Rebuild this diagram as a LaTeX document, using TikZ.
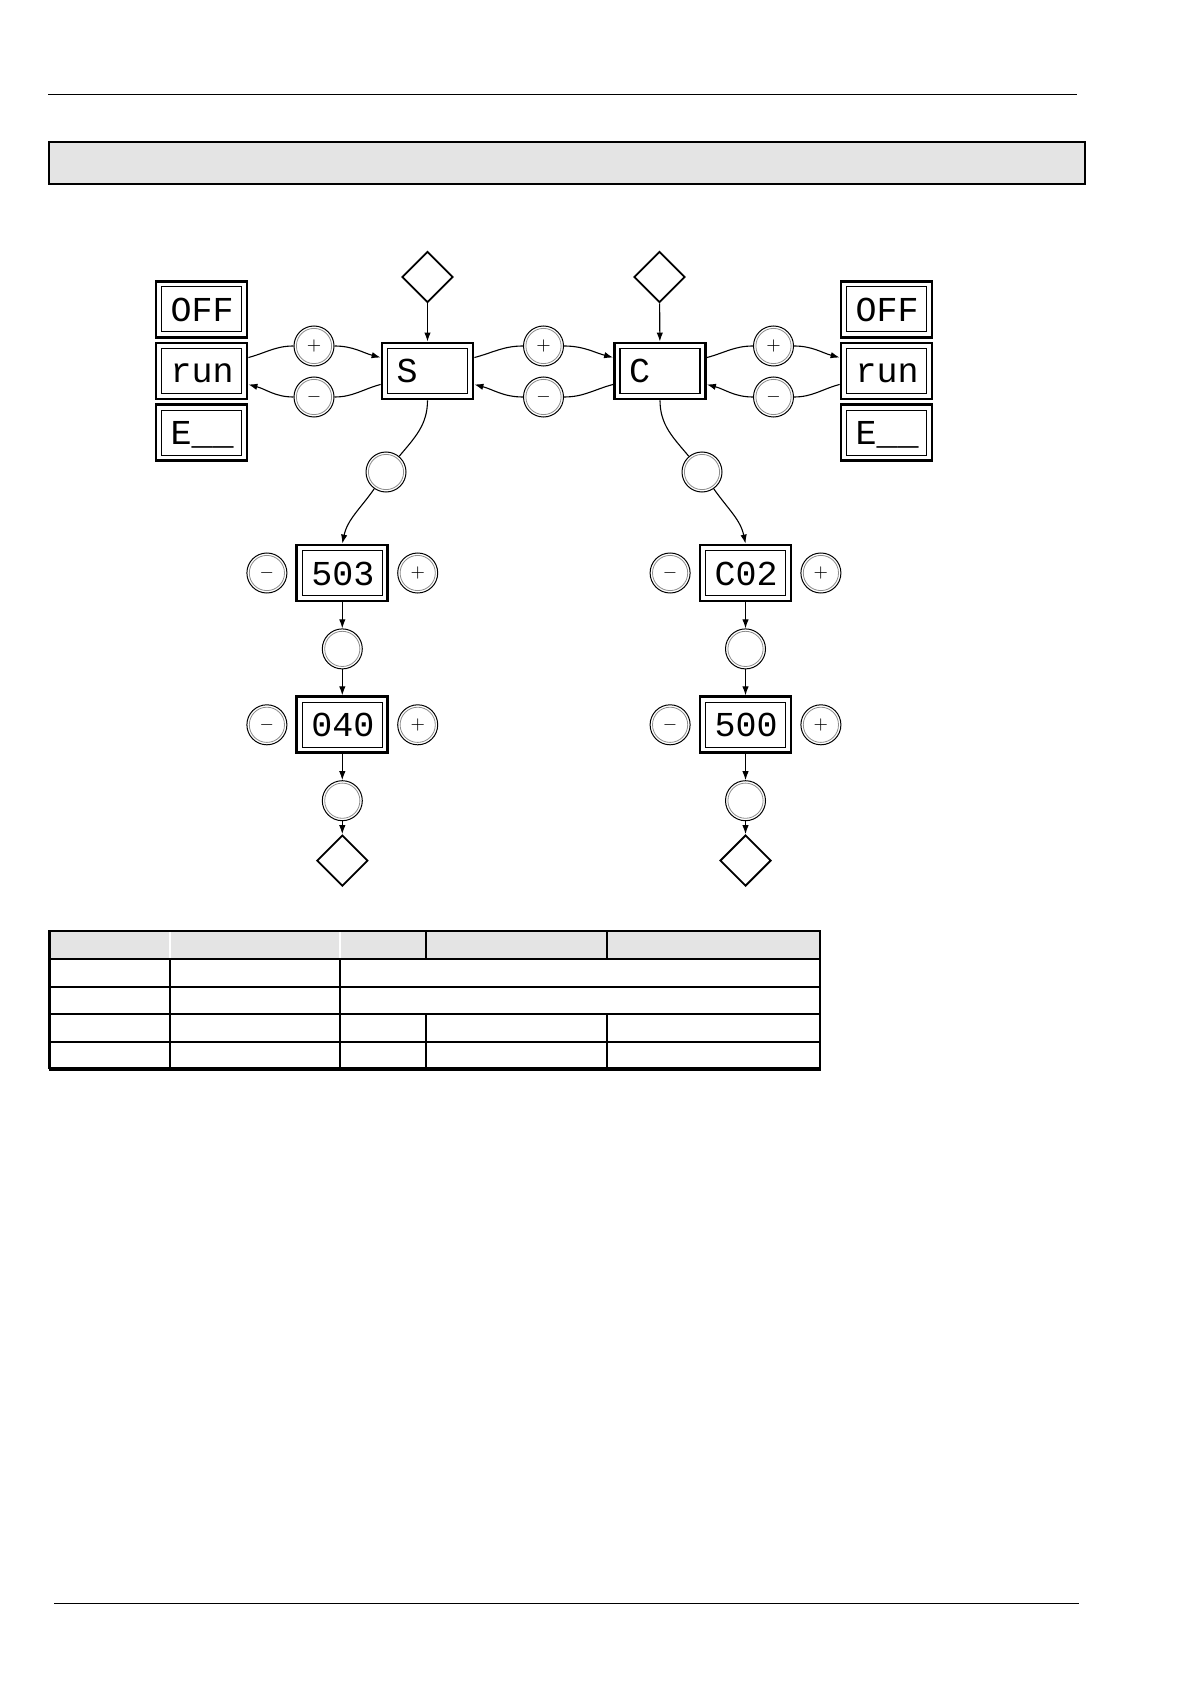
\documentclass[tikz,border=0pt]{standalone}
\usepackage{fontspec}
\usetikzlibrary{arrows.meta,positioning,shapes.geometric}
\newfontfamily\segfont{Liberation Mono}
\definecolor{PanelGray}{HTML}{E4E4E4}
\definecolor{RingGray}{HTML}{8C8C8C}

\begin{document}
\begin{tikzpicture}[
  x=0.5pt, y=0.5pt,
  disp/.style={draw, line width=1.4pt, fill=white, minimum height=28pt, text width=31pt,
    inner xsep=7.25pt, inner ysep=0pt, align=left, text height=12pt, text depth=0pt,
    font=\segfont\fontsize{17.5}{18}\selectfont,
    path picture={\draw[line width=0.7pt]
      ([shift={(2.8pt,-2.8pt)}]path picture bounding box.north west) rectangle
      ([shift={(-2.8pt,2.8pt)}]path picture bounding box.south east);}},
  key/.style={circle, draw, line width=0.5pt, minimum size=20pt, inner sep=0pt, font=\small,
    path picture={\draw[RingGray, line width=0.4pt] (path picture bounding box.center) circle (8.8pt);}},
  jump/.style={diamond, draw, line width=0.9pt, minimum width=25.5pt, minimum height=25.5pt,
    inner sep=0pt, aspect=1},
  arr/.style={-{Latex[length=4.5pt,width=3.2pt]}, line width=0.55pt},
  lnk/.style={line width=0.55pt}
]
\useasboundingbox (0,0) rectangle (1190,-1684);

% page rules and title band
\draw[line width=0.8pt] (48,-94.5) -- (1077,-94.5);
\draw[line width=0.6pt] (54,-1603.5) -- (1079,-1603.5);
\draw[line width=0.9pt, fill=PanelGray] (49,-142) rectangle (1085,-184);

% top level displays
\node[disp] (sTop) at (427.5,-371) {S};
\node[disp] (cTop) at (660,-371) {C};
\node[disp] (runL) at (201.5,-371) {run};
\node[disp, above=1.5pt of runL] (offL) {OFF};
\node[disp, below=1.5pt of runL] (errL) {E\_\_};
\node[disp] (runR) at (886.5,-371) {run};
\node[disp, above=1.5pt of runR] (offR) {OFF};
\node[disp, below=1.5pt of runR] (errR) {E\_\_};

\node[jump] (inS) at (427.5,-277) {};
\node[jump] (inC) at (659.5,-277) {};

\node[key] (plusL) at (314,-346) {$+$};
\node[key] (minusL) at (314,-397) {$-$};
\node[key] (plusM) at (543.5,-346) {$+$};
\node[key] (minusM) at (543.5,-397) {$-$};
\node[key] (plusR) at (773.5,-346) {$+$};
\node[key] (minusR) at (773.5,-397) {$-$};

\node[key] (setS) at (386,-472) {};
\node[key] (setC) at (702,-472) {};

% S branch
\node[disp] (s503) at (342.3,-573) {503};
\node[key, left=4pt of s503] (s503m) {$-$};
\node[key, right=4pt of s503] (s503p) {$+$};
\node[key, below=13pt of s503] (setS2) {};
\node[disp, below=13pt of setS2] (s040) {040};
\node[key, left=4pt of s040] (s040m) {$-$};
\node[key, right=4pt of s040] (s040p) {$+$};
\node[key, below=13pt of s040] (setS3) {};
\node[jump, below=6.5pt of setS3] (outS) {};

% C branch
\node[disp] (c02) at (745.5,-573) {C02};
\node[key, left=4pt of c02] (c02m) {$-$};
\node[key, right=4pt of c02] (c02p) {$+$};
\node[key, below=13pt of c02] (setC2) {};
\node[disp, below=13pt of setC2] (c500) {500};
\node[key, left=4pt of c500] (c500m) {$-$};
\node[key, right=4pt of c500] (c500p) {$+$};
\node[key, below=13pt of c500] (setC3) {};
\node[jump, below=6.5pt of setC3] (outC) {};

% scrolling between top level displays
\draw[lnk] (runL.16) to[out=15,in=180] (plusL);
\draw[arr] (plusL) to[out=0,in=165] (sTop.164);
\draw[lnk] (sTop.196) to[out=195,in=0] (minusL);
\draw[arr] (minusL) to[out=180,in=-15] (runL.-16);
\draw[lnk] (sTop.16) to[out=15,in=180] (plusM);
\draw[arr] (plusM) to[out=0,in=165] (cTop.164);
\draw[lnk] (cTop.196) to[out=195,in=0] (minusM);
\draw[arr] (minusM) to[out=180,in=-15] (sTop.-16);
\draw[lnk] (cTop.16) to[out=15,in=180] (plusR);
\draw[arr] (plusR) to[out=0,in=165] (runR.164);
\draw[lnk] (runR.196) to[out=195,in=0] (minusR);
\draw[arr] (minusR) to[out=180,in=-15] (cTop.-16);

% entry and branches
\draw[arr] (inS) -- (sTop);
\draw[arr] (inC) -- (cTop);
\draw[lnk] (sTop.south) to[out=-90,in=50] (setS);
\draw[arr] (setS) to[out=235,in=78] (s503.north);
\draw[lnk] (cTop.south) to[out=-90,in=130] (setC);
\draw[arr] (setC) to[out=-55,in=102] (c02.north);
\draw[arr] (s503) -- (setS2);
\draw[arr] (setS2) -- (s040);
\draw[arr] (s040) -- (setS3);
\draw[arr] (setS3) -- (outS);
\draw[arr] (c02) -- (setC2);
\draw[arr] (setC2) -- (c500);
\draw[arr] (c500) -- (setC3);
\draw[arr] (setC3) -- (outC);

% parameter table
\fill[PanelGray] (49.5,-931) rectangle (820,-959);
\draw[white, line width=0.6pt] (170,-931) -- (170,-959);
\draw[white, line width=0.6pt] (340,-931) -- (340,-959);
\draw[line width=0.9pt] (426,-931) -- (426,-959);
\draw[line width=0.9pt] (607,-931) -- (607,-959);
\draw[line width=0.9pt] (49.5,-959) -- (820,-959);
\draw[line width=1.3pt] (49.5,-987) -- (820,-987);
\draw[line width=0.9pt] (49.5,-1014) -- (820,-1014);
\draw[line width=1.3pt] (49.5,-1042) -- (820,-1042);
\draw[line width=0.7pt] (170,-959) -- (170,-1069);
\draw[line width=0.7pt] (340,-959) -- (340,-1069);
\draw[line width=0.9pt] (426,-1014) -- (426,-1069);
\draw[line width=0.9pt] (607,-1014) -- (607,-1069);
\draw[line width=1.2pt] (49.5,-1069) -- (49.5,-931) -- (820,-931) -- (820,-1069);
\draw[line width=1.9pt] (48.5,-1069) -- (821,-1069);
\end{tikzpicture}
\end{document}
